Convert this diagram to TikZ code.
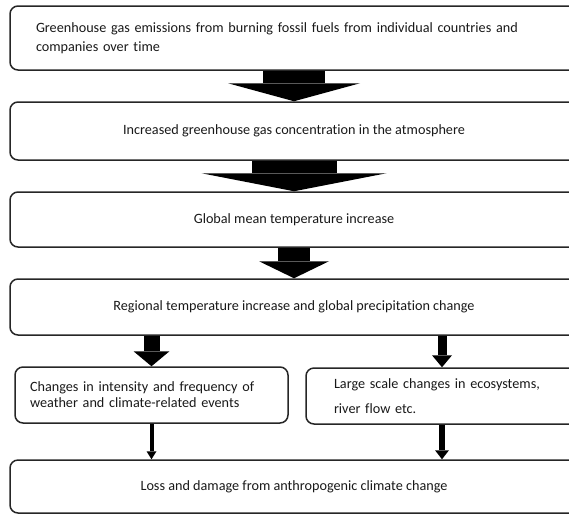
\documentclass[tikz,border=0pt]{standalone}
\usepackage{fontspec}
\setmainfont{Carlito}[Ligatures=NoCommon]
\usetikzlibrary{arrows.meta}
\tikzset{
    box/.style={draw=black!85, line width=1.5pt, rounded corners=8pt,
        minimum width=568pt, minimum height=#1, inner sep=0pt,
        text=black!90, font=\fontsize{14.2}{16}\selectfont},
    leftbox/.style={box=#1, align=left},
    flow/.style n args={3}{draw=black, line width=#1,
        -{Triangle[width=#2, length=#3, line width=0pt]}},
}
\begin{document}
\begin{tikzpicture}[x=1pt, y=-1pt]
        \useasboundingbox (0,0) rectangle (569,515);
        \clip (0,0) rectangle (569,515);
        \begin{scope}
            \node[leftbox=64pt, inner xsep=26pt, text width=516pt,
                font=\fontsize{14.2}{19}\selectfont] (emis) at (294,38)
                {Greenhouse gas emissions from burning fossil fuels from individual countries and\\companies over time};
            \node[box=58pt] (conc) at (294,131) {Increased greenhouse gas concentration in the atmosphere};
            \node[box=55pt] (gmt) at (294,219.5) {Global mean temperature increase};
            \node[box=56pt] (reg) at (294,307) {Regional temperature increase and global precipitation change};
            \node[leftbox=56pt, minimum width=273pt, inner xsep=15pt, text width=243pt] (events) at (151.5,395)
                {Changes in intensity and frequency of\\weather and climate-related events};
            \node[leftbox=56pt, minimum width=272pt, inner xsep=28pt, text width=216pt] (eco) at (442,396)
                {Large scale changes in ecosystems,\\[9pt]river flow etc.};
            \node[box=53pt] (loss) at (294,486.5) {Loss and damage from anthropogenic climate change};
            % big arrows down the middle
            \draw[flow={62pt}{132pt}{18pt}] (emis.south) -- (conc.north);
            \draw[flow={85pt}{185pt}{18pt}] (conc.south) -- (gmt.north);
            \draw[flow={32pt}{70pt}{17pt}] (gmt.south) -- (reg.north);
            % split into the two branches
            \draw[flow={16pt}{36pt}{15pt}] (reg.south -| events.north) -- (events.north);
            \draw[flow={9pt}{20pt}{12pt}] (reg.south -| eco.north) -- (eco.north);
            \draw[flow={4pt}{10pt}{8pt}] (events.south) -- (loss.north -| events.south);
            \draw[flow={6.5pt}{14pt}{9pt}] (eco.south) -- (loss.north -| eco.south);
        \end{scope}
\end{tikzpicture}
\end{document}
